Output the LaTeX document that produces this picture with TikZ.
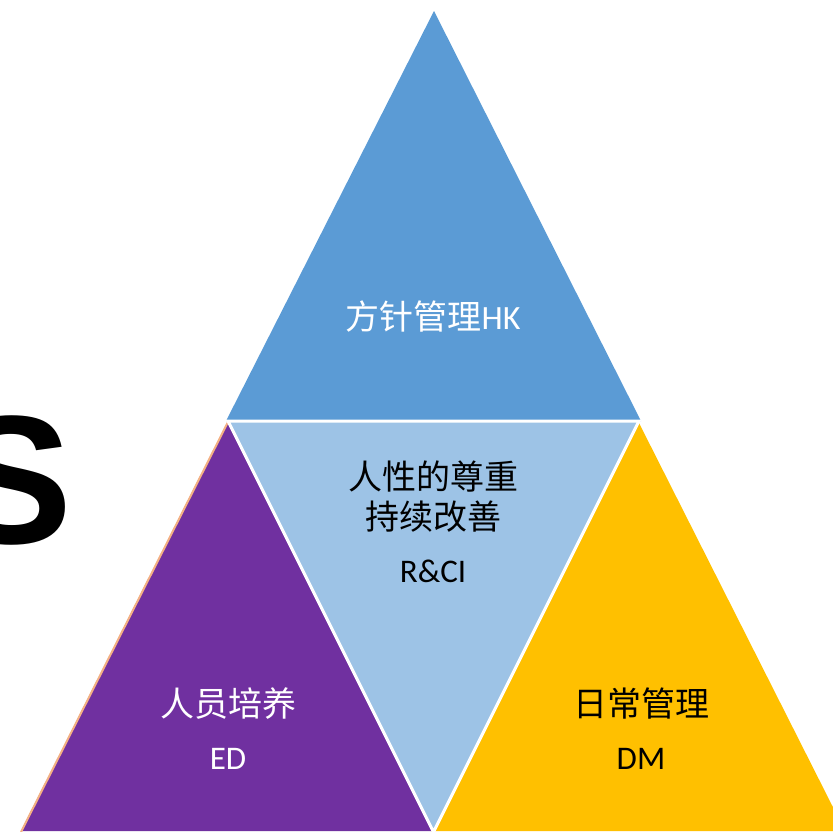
\documentclass[tikz,border=0pt]{standalone}
\usepackage{fontspec}
\setmainfont{Carlito}
\newfontfamily\cjk{Noto Sans CJK SC}
\newfontfamily\arialf{Liberation Sans}
\definecolor{topblue}{HTML}{5B9BD5}
\definecolor{midblue}{HTML}{9DC3E6}
\definecolor{edpurple}{HTML}{7030A0}
\definecolor{dmyellow}{HTML}{FFC000}
\definecolor{edgeorange}{HTML}{F4B183}
\tikzset{
  lbl/.style={inner sep=0pt, anchor=base, align=center},
  zh/.style={font=\cjk\fontsize{34}{40}\selectfont},
  en/.style={font=\fontsize{33}{38}\selectfont},
  sep/.style={draw=white, line width=3pt, line join=miter}
}
\begin{document}
\begin{tikzpicture}[x=1pt,y=-1pt]
\useasboundingbox (0,0) rectangle (833,831);
\clip (0,0) rectangle (833,831);
% big S
\node[inner sep=0pt, anchor=base west, font=\arialf\bfseries\fontsize{183}{200}\selectfont] (bigS) at (-50,543) {S};
% top triangle
\fill[topblue] (434,11) -- (226,421) -- (641,421) -- cycle;
% purple triangle
\fill[edpurple] (228,421) -- (21,831) -- (435,831) -- cycle;
\draw[edgeorange, line width=2pt] (228,422) -- (21,832);
% yellow triangle
\fill[dmyellow] (638,421) -- (431,831) -- (845,831) -- cycle;
% middle inverted triangle
\filldraw[fill=midblue, sep] (228,421) -- (639,421) -- (433.5,832) -- cycle;
% texts
\node[lbl, text=white] (hk) at (433,329) {{\cjk\fontsize{34}{40}\selectfont 方针管理}{\fontsize{34}{38}\selectfont HK}};
\node[lbl, zh, text=black] (rc1) at (433,489) {人性的尊重};
\node[lbl, zh, text=black] (rc2) at (433,529) {持续改善};
\node[lbl, en, text=black] (rc3) at (433,582) {R\&CI};
\node[lbl, zh, text=white] (ed1) at (228,716) {人员培养};
\node[lbl, en, text=white] (ed2) at (228,769) {ED};
\node[lbl, zh, text=black] (dm1) at (641,716) {日常管理};
\node[lbl, en, text=black] (dm2) at (641,769) {DM};
\end{tikzpicture}
\end{document}
